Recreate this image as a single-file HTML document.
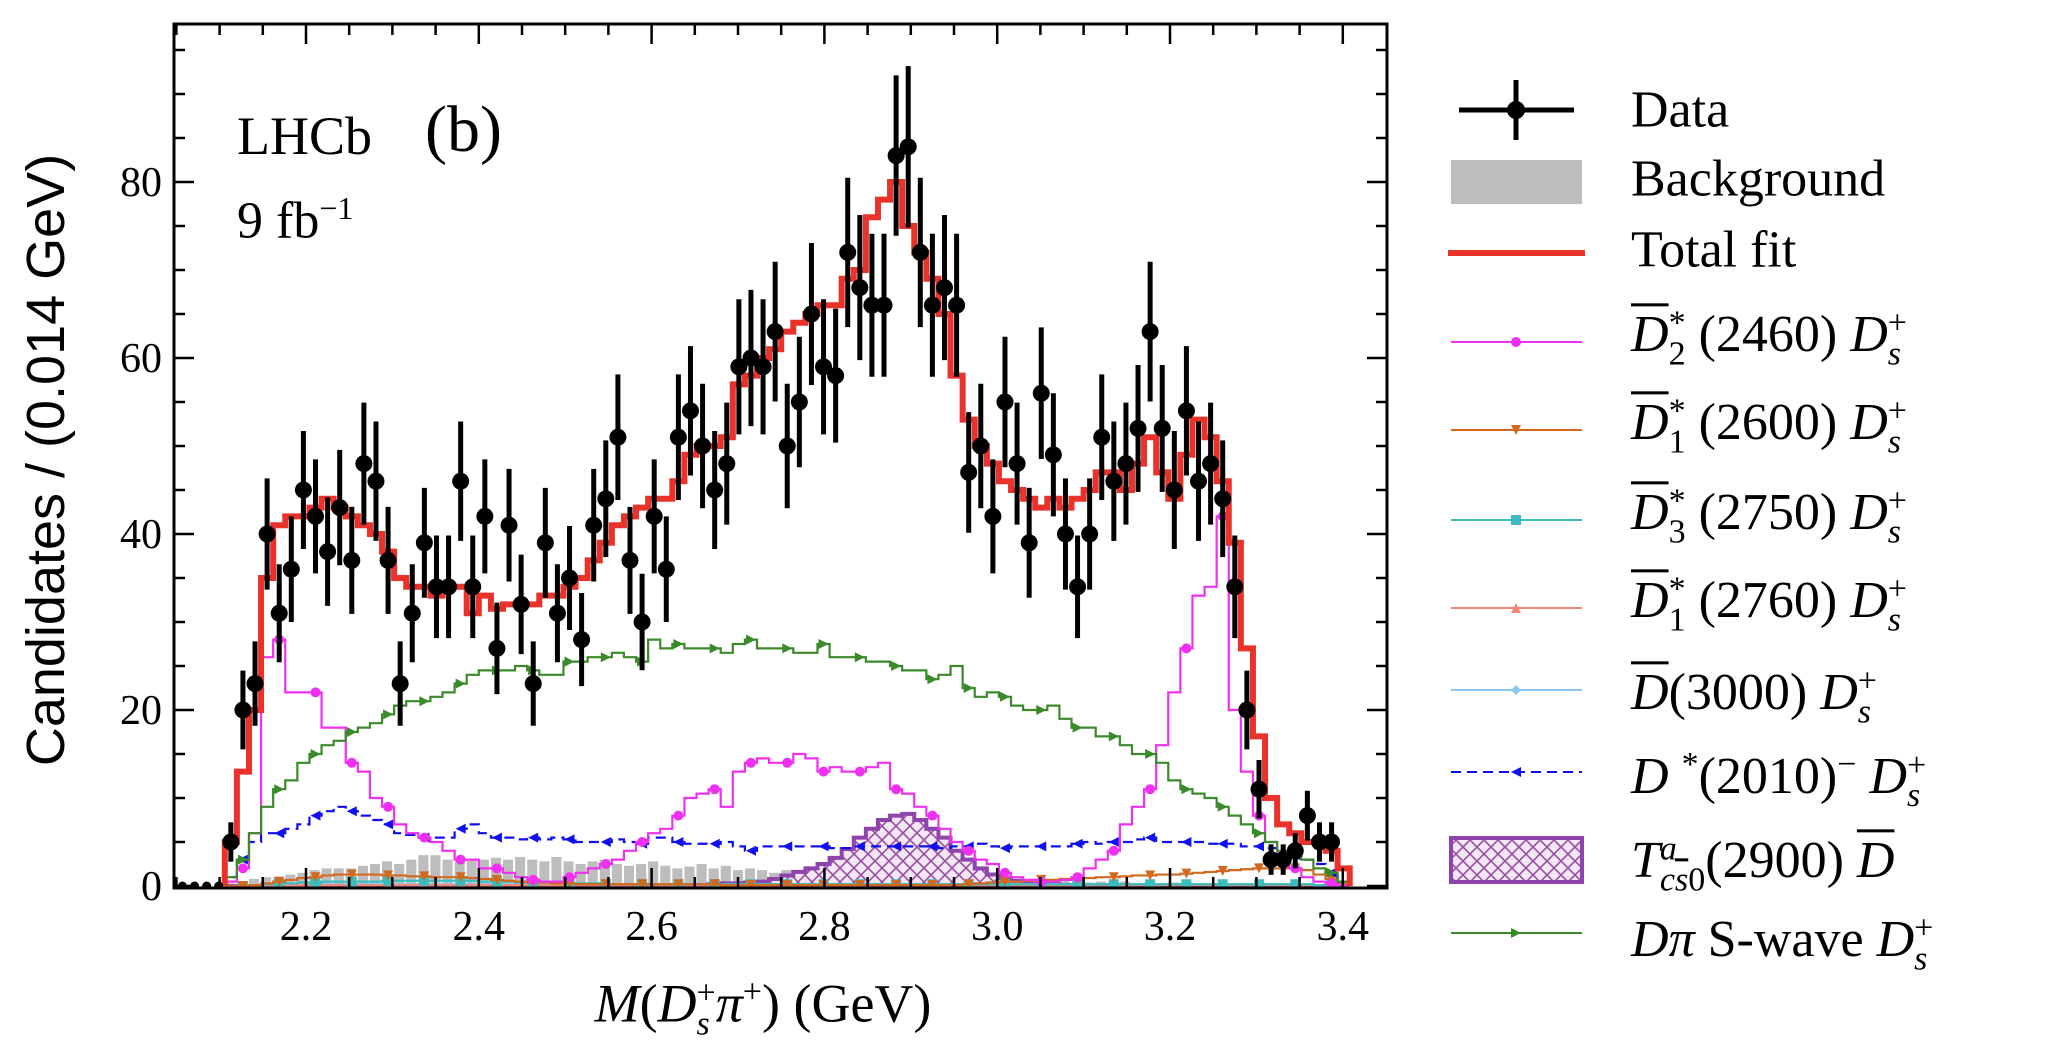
<!DOCTYPE html>
<html><head><meta charset="utf-8">
<style>
html,body{margin:0;padding:0;background:#fff;}
#wrap{position:relative;width:2052px;height:1056px;overflow:hidden;font-family:"Liberation Serif",serif;}
svg{position:absolute;left:0;top:0;}
.leg{position:absolute;left:1631px;font-size:52px;line-height:52px;transform:translateY(-55%);white-space:nowrap;color:#000;}
.ov{text-decoration:overline;text-decoration-thickness:3px;}
i{font-style:italic;}
.ss{display:inline-block;vertical-align:middle;line-height:0.9;font-size:34px;text-align:left;}
</style></head>
<body>
<div id="wrap">
<svg id="plot" width="2052" height="1056">
<defs>
<pattern id="hatch" width="14" height="14" patternUnits="userSpaceOnUse">
<rect width="14" height="14" fill="#f3e6f5"/>
<path d="M0,0L14,14M14,0L0,14" stroke="#9b4ea5" stroke-width="1.6"/>
</pattern>
</defs>
</svg>

<div class="leg" style="top:113px">Data</div>
<div class="leg" style="top:182px">Background</div>
<div class="leg" style="top:253px">Total fit</div>
<div class="leg" style="top:342px"><i class="ov">D</i><span class="ss">*<br>2</span> (2460) <i>D</i><span class="ss">+<br><i>s</i></span></div>
<div class="leg" style="top:430px"><i class="ov">D</i><span class="ss">*<br>1</span> (2600) <i>D</i><span class="ss">+<br><i>s</i></span></div>
<div class="leg" style="top:520px"><i class="ov">D</i><span class="ss">*<br>3</span> (2750) <i>D</i><span class="ss">+<br><i>s</i></span></div>
<div class="leg" style="top:608px"><i class="ov">D</i><span class="ss">*<br>1</span> (2760) <i>D</i><span class="ss">+<br><i>s</i></span></div>
<div class="leg" style="top:700px"><i class="ov">D</i>(3000) <i>D</i><span class="ss">+<br><i>s</i></span></div>
<div class="leg" style="top:779px"><i>D</i> <sup style="font-size:34px">*</sup>(2010)<sup style="font-size:34px">−</sup> <i>D</i><span class="ss">+<br><i>s</i></span></div>
<div class="leg" style="top:868px"><i>T</i><span class="ss"><i>a</i><br><i>c</i><span class="ov"><i>s</i></span>0</span>(2900) <i class="ov">D</i></div>
<div class="leg" style="top:947px"><i>D</i><i>π</i> S-wave <i>D</i><span class="ss">+<br><i>s</i></span></div>
</div>

<script>
// ---- data ----
const binWidth = 0.014;
const firstBin = 2.113;
const dataCounts = [5,20,23,40,31,36,45,42,38,43,37,48,46,37,23,31,39,34,34,46,34,42,27,41,32,23,39,31,35,28,41,44,51,37,30,42,36,51,54,50,45,48,59,60,59,63,50,55,65,59,58,72,68,66,66,83,84,72,66,68,66,47,50,42,55,48,39,56,49,40,34,40,51,46,48,52,63,52,45,54,46,48,44,34,20,11,3,3,4,8,5,5];
const zeroPointsX = [2.057,2.071,2.085,2.099];
const totalFit = [5,13,20,35,41,42,42,43,44,43,42,41,40,38,35,34,34,33,34,34,31,33,31.5,32,32,32,33,33,34,35,37,39,41,42,43,44,44,46,49,50,50,51,57,58,60,61,63,64,65,66,66,69,70,76,78,80,75,72,69,65,58,53,50,48,46,45,44,43,44,43,44,45,47,47,45,48,51,47,44,49,53,51,46,39,27,17,10,7,6,5,5,4,2];
const d2_2460 = [0.5,2,6,26,28,22,22,22,18,18,14,13,10,9,7,6,5.5,5,4,3,3,2,2,1.5,1,0.7,0.5,0.5,1,1.5,2,2.5,3,4,5,6,6.5,8,10,10.5,11,9,13,14,14.5,14,14,15,14.5,13,13.5,13,13,13.5,14,11,10.5,9,8,6.5,5,4,3,2.5,1.5,1,0.7,0.5,0.5,0.7,1,2,3,4,7,9,11,16,22,27,33,34,42,20,13,8,5,3,2,1,0.5,0.3,0.1];
const sWave = [1,3,6,9,11,12,14,15,16,16.5,17.5,18,18.5,19.5,20.5,21,21,21.5,22,23,24,24.5,24.5,24.5,25,24.5,24,24,25.5,25.5,26,26,26.5,26,25.5,28,27,27.5,27,27,27,26.5,27.5,28,27,27,27,26.5,26.5,27.5,26,26,26,25.5,25.5,25,24.5,24.5,23.5,24,25,22.5,21.5,22,21.5,20.5,20,20,20.5,19,18,18,17,17,16,15,15,14,12,11,10.5,10,9,8,7,6,5,4,3.5,3,2,1.5,0.5];
const dStar2010 = [1,3,5,6,6,6.5,7,8,8.5,9,8.5,8,7.5,7,6,5.8,5.5,5.5,5.5,6.5,7,6,5.5,5.5,5.3,5.5,5.3,5.5,5.3,5,5,5,5.3,5,4.8,5.5,5.5,5,4.8,4.8,4.8,5,4.5,4,4.5,4.5,4.5,4.5,4.5,4.5,4.3,4.3,4.5,4.5,4.5,4.5,4.5,4.5,4.5,4.3,4.5,4.5,4.8,4.5,4.3,4.5,4.5,4.5,4.5,4.5,4.8,5,4.8,5,5,5.3,5.5,5,5,5,5,4.8,4.8,4.8,4.5,4.5,4.3,4,3.5,3,2.5,1.5,0.5];
const background = [0.3,0.5,0.8,1,1,1.3,1.5,1.8,2,2,2,2.3,2.5,2.8,2.5,3,3.5,3.5,3,2.8,3,3,3.2,3,3.3,3,2.8,3.3,2.8,2.5,2.8,3,2.5,2.3,2.5,2.8,2.3,2,2.2,2.5,2,2.3,1.8,2,1.8,1.5,1.8,1.5,1.5,1.2,1.3,1,1.2,1,0.8,1,0.8,0.8,0.7,0.8,0.6,0.7,0.6,0.5,0.6,0.5,0.6,0.5,0.5,0.6,0.5,0.4,0.5,0.4,0.5,0.3,0.4,0.3,0.4,0.3,0.3,0.3,0.3,0.3,0.3,0.3,0.3,0.3,0.2,0.2,0.2,0.2,0.1];
const tcs2900 = [0,0,0,0,0,0,0,0,0,0,0,0,0,0,0,0,0,0,0,0,0,0,0,0,0,0,0,0,0,0,0,0,0,0,0,0,0,0,0,0.1,0.2,0.3,0.3,0.4,0.5,0.8,1.2,1.6,2,2.5,3.2,4.2,5.5,6.5,7.5,8,8.2,7.5,6.5,5.5,4,3,2,1.3,0.9,0.6,0.4,0.3,0.2,0.1,0,0,0,0,0,0,0,0,0,0,0,0,0,0,0,0,0,0,0,0,0,0,0];
const d1_2600 = [0,0,0.1,0.3,0.5,0.7,0.9,1,1.2,1.3,1.3,1.3,1.3,1.2,1.2,1.1,1.1,1,1,1,0.9,0.8,0.7,0.6,0.5,0.4,0.4,0.3,0.3,0.2,0.2,0.2,0.2,0.2,0.2,0.2,0.2,0.2,0.2,0.2,0.2,0.1,0.1,0.1,0.1,0.1,0.1,0.1,0.1,0.1,0.1,0.1,0.1,0.1,0.1,0.1,0.1,0.1,0.1,0.1,0.1,0.2,0.3,0.4,0.5,0.5,0.6,0.7,0.7,0.8,0.8,0.9,1,1,1.1,1.2,1.2,1.3,1.3,1.4,1.5,1.6,1.7,1.8,1.9,2,2,2,2,1.8,1.3,0.8,0.3];
const d3_2750 = [0,0,0.1,0.2,0.3,0.3,0.4,0.4,0.5,0.5,0.5,0.5,0.5,0.6,0.6,0.6,0.6,0.6,0.6,0.6,0.6,0.5,0.5,0.5,0.4,0.4,0.4,0.3,0.3,0.3,0.3,0.2,0.2,0.2,0.2,0.2,0.2,0.2,0.2,0.2,0.2,0.2,0.2,0.2,0.2,0.2,0.2,0.2,0.2,0.2,0.2,0.2,0.2,0.2,0.2,0.2,0.2,0.2,0.2,0.2,0.2,0.2,0.2,0.2,0.2,0.2,0.2,0.2,0.2,0.2,0.2,0.2,0.2,0.2,0.2,0.2,0.2,0.2,0.2,0.2,0.2,0.2,0.2,0.2,0.2,0.2,0.2,0.2,0.2,0.2,0.1,0.1,0];
const d1_2760 = [0,0,0,0.1,0.1,0.1,0.1,0.1,0.1,0.1,0.1,0.1,0.1,0.1,0.1,0.1,0.1,0.1,0.1,0.1,0.1,0.1,0.1,0.1,0.1,0.1,0.1,0.1,0.1,0.1,0.1,0.1,0.1,0.1,0.1,0.1,0.1,0.1,0.1,0.1,0.1,0.1,0.1,0.1,0.1,0.1,0.1,0.1,0.1,0.1,0.1,0.1,0.1,0.1,0.1,0.1,0.1,0.1,0.1,0.1,0.1,0.1,0.1,0.1,0.1,0.1,0.1,0.1,0.1,0.1,0.1,0.1,0.1,0.1,0.1,0.1,0.1,0.1,0.1,0.1,0.1,0.1,0.1,0.1,0.1,0.1,0.1,0.1,0.1,0.1,0.1,0.1,0];
const d3000 = [0,0,0,0.1,0.1,0.1,0.1,0.2,0.2,0.2,0.2,0.2,0.2,0.2,0.2,0.2,0.2,0.2,0.2,0.2,0.2,0.2,0.2,0.2,0.2,0.2,0.2,0.2,0.2,0.2,0.2,0.2,0.2,0.2,0.2,0.2,0.2,0.2,0.2,0.2,0.2,0.2,0.2,0.2,0.2,0.2,0.2,0.2,0.2,0.2,0.2,0.2,0.2,0.2,0.2,0.2,0.2,0.2,0.2,0.2,0.2,0.2,0.2,0.2,0.2,0.2,0.2,0.2,0.2,0.2,0.2,0.2,0.2,0.2,0.2,0.2,0.2,0.2,0.2,0.2,0.2,0.2,0.2,0.2,0.2,0.2,0.2,0.2,0.2,0.2,0.1,0.1,0];
const xTickLabels = ["2.2","2.4","2.6","2.8","3.0","3.2","3.4"];
const yTickLabels = ["0","20","40","60","80"];

// ---- axes ----
const X0 = 174, X1 = 1387, Y0 = 24, Y1 = 888;
function xs(x){ return 306 + (x - 2.2) * 864; }
function ys(v){ return 886 - v * 8.8; }
const NS = "http://www.w3.org/2000/svg";
const svg = document.getElementById('plot');
function mk(tag, attrs, parent){
  const e = document.createElementNS(NS, tag);
  for (const k in attrs) e.setAttribute(k, attrs[k]);
  (parent || svg).appendChild(e);
  return e;
}
const clip = mk('clipPath', {id:'frameclip'}, svg.querySelector('defs'));
mk('rect', {x:X0, y:Y0, width:X1-X0, height:Y1-Y0}, clip);
const g = mk('g', {'clip-path':'url(#frameclip)'});



function binCenter(i){ return firstBin + i * binWidth; }
function stepPath(vals){
  let d = '';
  vals.forEach((v, i) => {
    const xl = xs(binCenter(i) - binWidth/2), xr = xs(binCenter(i) + binWidth/2);
    d += (i === 0 ? 'M' + xl + ',' + ys(0) + 'L' : 'L') + xl + ',' + ys(v) + 'L' + xr + ',' + ys(v);
  });
  d += 'L' + xs(binCenter(vals.length - 1) + binWidth/2) + ',' + ys(0);
  return d;
}

background.forEach((v, i) => {
  const r = mk('rect', {x: xs(binCenter(i) - binWidth/2), y: ys(v), width: binWidth*864 - 2, height: ys(0) - ys(v), fill: '#bdbdbd'}, g);
  
  
});

const tp = mk('path', {d: stepPath(tcs2900) + 'Z', fill: 'url(#hatch)', stroke: '#8e44ad', 'stroke-width': 4}, g);



function marker(type, cx, cy, color, parent){
  const s = 5;
  let e;
  if (type === 'circle') e = mk('circle', {cx, cy, r: s, fill: color}, parent);
  else if (type === 'square') e = mk('rect', {x: cx-s, y: cy-s, width: 2*s, height: 2*s, fill: color}, parent);
  else {
    let pts;
    if (type === 'down') pts = [[cx-s,cy-s],[cx+s,cy-s],[cx,cy+s]];
    if (type === 'up') pts = [[cx-s,cy+s],[cx+s,cy+s],[cx,cy-s]];
    if (type === 'left') pts = [[cx+s,cy-s],[cx+s,cy+s],[cx-s,cy]];
    if (type === 'right') pts = [[cx-s,cy-s],[cx-s,cy+s],[cx+s,cy]];
    if (type === 'diamond') pts = [[cx,cy-s],[cx+s,cy],[cx,cy+s],[cx-s,cy]];
    e = mk('polygon', {points: pts.map(p => p.join(',')).join(' '), fill: color}, parent);
  }
  return e;
}

function drawComp(vals, color, mtype, name, dash, every){
  const grp = mk('g', {}, g);
  
  
  mk('path', {d: stepPath(vals), fill: 'none', stroke: color, 'stroke-width': 2.2, 'stroke-dasharray': dash || 'none'}, grp);
  vals.forEach((v, i) => {
    if (i % every === 1) {
      const m = marker(mtype, xs(binCenter(i)), ys(v), color, grp);
      
      
    }
  });
}
drawComp(d3000, '#8ec8f0', 'diamond', 'd3000-component', null, 3);
drawComp(d1_2760, '#f08878', 'up', 'd1-2760-component', null, 3);
drawComp(d3_2750, '#3cbcbc', 'square', 'd3-2750-component', null, 3);
drawComp(d1_2600, '#d2691e', 'down', 'd1-2600-component', null, 3);
drawComp(dStar2010, '#1010ee', 'left', 'dstar-2010-component', '10,6', 3);
drawComp(d2_2460, '#f030f0', 'circle', 'd2-2460-component', null, 3);
drawComp(sWave, '#3a8a2a', 'right', 'swave-component', null, 3);

const tf = mk('path', {d: stepPath(totalFit), fill: 'none', stroke: '#e8322a', 'stroke-width': 6, 'stroke-linejoin': 'miter'}, g);



const dg = mk('g', {}, g);


zeroPointsX.forEach(x => {
  const c = mk('circle', {cx: xs(x), cy: ys(0), r: 4.5, fill: '#000'}, dg);
  
  
});
dataCounts.forEach((n, i) => {
  const x = xs(binCenter(i)), e = Math.sqrt(n);
  const l = mk('line', {x1: x, x2: x, y1: ys(n + e), y2: ys(Math.max(0, n - e)), stroke: '#000', 'stroke-width': 5}, dg);
  
  
  const c = mk('circle', {cx: x, cy: ys(n), r: 8.5, fill: '#000'}, dg);
  
  
});

const fr = mk('rect', {x: X0, y: Y0, width: X1-X0, height: Y1-Y0, fill: 'none', stroke: '#000', 'stroke-width': 3});



const tg = mk('g', {stroke: '#000', 'stroke-width': 2.5});


for (let k = 0; k <= 30; k++) {
  const x = 2.0 + k * 0.05;
  if (xs(x) < X0 + 2 || xs(x) > X1 - 2) continue;
  const major = (k % 4 === 0);
  const L = major ? 20 : 11;
  mk('line', {x1: xs(x), x2: xs(x), y1: Y1, y2: Y1 - L}, tg);
  mk('line', {x1: xs(x), x2: xs(x), y1: Y0, y2: Y0 + L}, tg);
}
for (let v = 0; v <= 95; v += 5) {
  const L = v % 20 === 0 ? 20 : 11;
  mk('line', {x1: X0, x2: X0 + L, y1: ys(v), y2: ys(v)}, tg);
  mk('line', {x1: X1, x2: X1 - L, y1: ys(v), y2: ys(v)}, tg);
}
xTickLabels.forEach(t => {
  const e = mk('text', {x: xs(parseFloat(t)), y: Y1 + 52, 'text-anchor': 'middle', 'font-family': 'Liberation Serif, serif', 'font-size': 42});
  e.textContent = t;
  
  
});
yTickLabels.forEach(t => {
  const e = mk('text', {x: X0 - 12, y: ys(parseFloat(t)) + 14, 'text-anchor': 'end', 'font-family': 'Liberation Serif, serif', 'font-size': 42});
  e.textContent = t;
  
  
});

const lg = mk('g', {});


const LX0 = 1451, LX1 = 1582, LXM = 1516;
mk('line', {x1: LX0+8, x2: LX1-8, y1: 110, y2: 110, stroke: '#000', 'stroke-width': 5}, lg);
mk('line', {x1: LXM, x2: LXM, y1: 80, y2: 140, stroke: '#000', 'stroke-width': 5}, lg);
mk('circle', {cx: LXM, cy: 110, r: 9, fill: '#000'}, lg);
mk('rect', {x: LX0, y: 160, width: LX1-LX0, height: 44, fill: '#bdbdbd'}, lg);
mk('line', {x1: LX0-3, x2: LX1+3, y1: 253, y2: 253, stroke: '#e8322a', 'stroke-width': 6}, lg);
const legItems = [[342,'#f030f0','circle',null],[430,'#d2691e','down',null],[520,'#3cbcbc','square',null],[608,'#f08878','up',null],[690,'#8ec8f0','diamond',null],[772,'#1010ee','left','10,6'],[933,'#3a8a2a','right',null]];
legItems.forEach(it => {
  mk('line', {x1: LX0, x2: LX1, y1: it[0], y2: it[0], stroke: it[1], 'stroke-width': 2, 'stroke-dasharray': it[3] || 'none'}, lg);
  marker(it[2], LXM, it[0], it[1], lg);
});
mk('rect', {x: LX0, y: 838, width: LX1-LX0, height: 44, fill: 'url(#hatch)', stroke: '#8e44ad', 'stroke-width': 4}, lg);
</script>

<div style="position:absolute;left:237px;top:105px;font-size:54px;font-family:'Liberation Serif',serif;">LHCb</div>
<div style="position:absolute;left:425px;top:92px;font-size:66px;font-family:'Liberation Serif',serif;">(b)</div>
<div style="position:absolute;left:237px;top:190px;font-size:52px;font-family:'Liberation Serif',serif;">9 fb<sup style="font-size:32px">−1</sup></div>
<div style="position:absolute;left:46px;top:460px;transform:translate(-50%,-50%) rotate(-90deg);font-size:54px;font-family:'Liberation Sans',sans-serif;white-space:nowrap;">Candidates / (0.014 GeV)</div>
<div style="position:absolute;left:763px;top:1006px;transform:translate(-50%,-50%);font-size:54px;font-family:'Liberation Serif',serif;white-space:nowrap;"><i>M</i>(<i>D</i><span class="ss" style="font-size:34px">+<br><i>s</i></span><i>π</i><sup style="font-size:34px">+</sup>) (GeV)</div>
</body></html>
